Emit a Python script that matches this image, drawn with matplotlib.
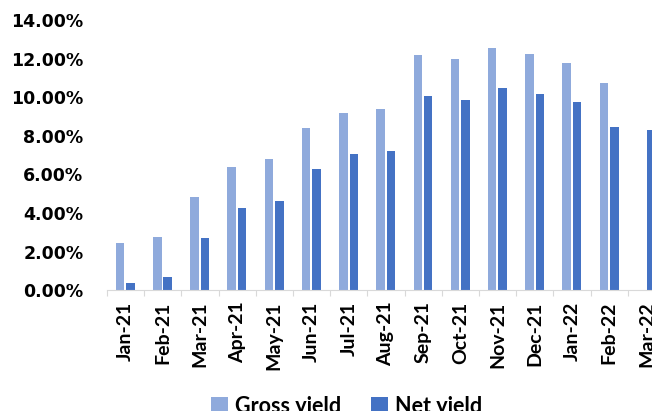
import numpy as np
import matplotlib.pyplot as plt
from matplotlib.ticker import FuncFormatter, FixedLocator

months = ["Jan-21", "Feb-21", "Mar-21", "Apr-21", "May-21", "Jun-21", "Jul-21",
          "Aug-21", "Sep-21", "Oct-21", "Nov-21", "Dec-21", "Jan-22", "Feb-22", "Mar-22"]
gross_yield = [2.43, 2.75, 4.82, 6.37, 6.78, 8.43, 9.19, 9.37, 12.20, 11.98,
               12.55, 12.25, 11.80, 10.74, np.nan]
net_yield = [0.35, 0.67, 2.70, 4.25, 4.60, 6.26, 7.05, 7.22, 10.07, 9.86,
             10.48, 10.15, 9.76, 8.46, 8.29]

plt.rcParams['font.family'] = ['Lato', 'DejaVu Sans']

fig = plt.figure(figsize=(6.52, 4.11), dpi=100)
# axes runs a little past the right edge, like the cropped original
ax = fig.add_axes([0.164, 0.294, 0.856, 0.657])

x = np.arange(len(months))
w = 0.23
ax.bar(x - 0.145, gross_yield, w, color="#8FAADC", label="Gross yield")
ax.bar(x + 0.135, net_yield, w, color="#4472C4", label="Net yield")

ax.set_xlim(-0.5, len(months) - 0.5)
ax.set_ylim(0, 14)
ax.set_yticks(np.arange(0, 15, 2))
ax.yaxis.set_major_formatter(FuncFormatter(lambda v, p: f"{v:.2f}%"))
ax.tick_params(axis="y", length=0, pad=17)
for t in ax.get_yticklabels():
    t.set_fontweight("bold")
    t.set_fontfamily("DejaVu Sans")
    t.set_fontsize(12.5)

ax.set_xticks(x)
ax.set_xticklabels(months, rotation=90, fontsize=14, fontweight="bold")
ax.tick_params(axis="x", length=0, pad=8)
ax.xaxis.set_minor_locator(FixedLocator(np.arange(-0.5, len(months), 1)))
ax.tick_params(axis="x", which="minor", length=4, color="#D9D9D9", width=0.8)

for s in ["top", "right", "left"]:
    ax.spines[s].set_visible(False)
ax.spines["bottom"].set_color("#D9D9D9")

fig.legend(loc="center", bbox_to_anchor=(0.532, 0.012), ncol=2, frameon=False,
           prop={"weight": "bold", "size": 15.5}, handlelength=0.75, handleheight=0.75,
           columnspacing=1.4, handletextpad=0.35)

fig.savefig("out.png", dpi=100)
